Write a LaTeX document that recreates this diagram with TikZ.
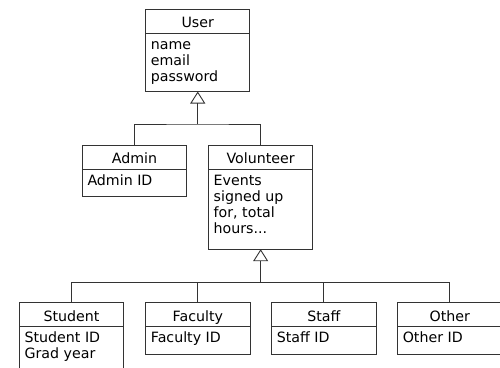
\documentclass[tikz,border=0pt]{standalone}
\usepackage{fontspec}
\setmainfont{DejaVu Sans}
\usetikzlibrary{arrows.meta,calc}
\tikzset{
  umlline/.style={draw=black!80, line width=0.9pt},
  classbox/.style={umlline, rectangle, inner sep=0pt, outer sep=0pt, fill=white},
  titletext/.style={inner sep=0pt, font=\fontsize{14.2}{16}\selectfont},
  attrtext/.style={inner sep=0pt, font=\fontsize{14.2}{16}\selectfont},
  inherit/.style={umlline, -{Triangle[open, width=15pt, length=12pt]}}
}
\newcommand\umlclass[7]{%
  \node[classbox, minimum width=#4pt, minimum height=#5pt, anchor=north west] (#1) at (#2,#3) {};
  \draw[umlline] ([yshift=-24pt]#1.north west) -- ([yshift=-24pt]#1.north east);
  \node[titletext, anchor=base] (#1-title) at ([yshift=-18.5pt]#1.north) {#6};
  \foreach \t [count=\i] in {#7}
    \node[attrtext, anchor=base west] (#1-a\i) at ([xshift=5pt, yshift={-24pt-16pt*\i}]#1.north west) {\t};
}
\begin{document}
\begin{tikzpicture}[x=1pt, y=-1pt]
  \useasboundingbox (0,0) rectangle (500,367);
  \clip (0,0) rectangle (500,367);
  \umlclass{User}{145.6}{9}{104.3}{82.5}{User}{name,email,password}
  \umlclass{Admin}{82.3}{145.2}{104.3}{51.7}{Admin}{Admin ID}
  \umlclass{Vol}{208.5}{145.2}{104.3}{104}{Volunteer}{Events,signed up,{for, total},hours.{}.{}.}
  \umlclass{Student}{19.4}{302.7}{104.3}{75}{Student}{Student ID,Grad year}
  \umlclass{Faculty}{145.7}{302.7}{104.3}{51.7}{Faculty}{Faculty ID}
  \umlclass{Staff}{271.7}{302.7}{104.3}{51.7}{Staff}{Staff ID}
  \umlclass{Other}{397.6}{302.7}{104.3}{51.7}{Other}{Other ID}
  % upper generalization
  \coordinate (j1) at (User.south |- 0,124);
  \draw[umlline] (Admin.north) |- (j1) -| (Vol.north);
  \draw[inherit] (j1) -- (User.south);
  % lower generalization
  \coordinate (j2) at (Vol.south |- 0,282.3);
  \draw[umlline] (Student.north) |- (j2) -| (Other.north);
  \draw[umlline] (Faculty.north) -- (Faculty.north |- j2);
  \draw[umlline] (Staff.north) -- (Staff.north |- j2);
  \draw[inherit] (j2) -- (Vol.south);
\end{tikzpicture}
\end{document}
